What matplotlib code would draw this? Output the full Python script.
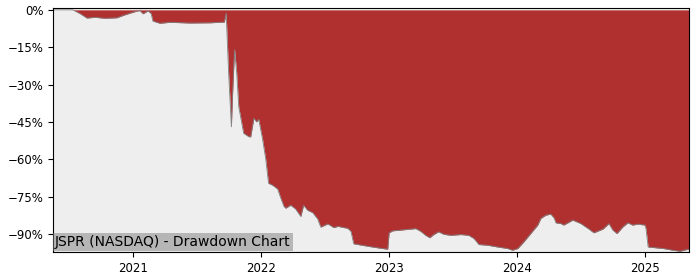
import numpy as np
import pandas as pd
import matplotlib
matplotlib.use('Agg')
import matplotlib.pyplot as plt
from matplotlib.ticker import PercentFormatter, MultipleLocator
import matplotlib.dates as mdates

# Drawdown of JSPR (percent below running peak)
dates = [
    '2020-05-18', '2020-07-14', '2020-08-03', '2020-08-23', '2020-09-15',
    '2020-10-13', '2020-11-16', '2020-12-09', '2021-01-12', '2021-01-21',
    '2021-01-30', '2021-02-13', '2021-02-22', '2021-02-27', '2021-03-19',
    '2021-04-17', '2021-06-13', '2021-08-10', '2021-09-19', '2021-09-24',
    '2021-10-01', '2021-10-09', '2021-10-12', '2021-10-18', '2021-10-24',
    '2021-10-30', '2021-11-13', '2021-11-28', '2021-12-03', '2021-12-12',
    '2021-12-20', '2021-12-26', '2022-01-06', '2022-01-15', '2022-01-23',
    '2022-02-04', '2022-02-18', '2022-02-27', '2022-03-08', '2022-03-13',
    '2022-03-27', '2022-04-10', '2022-04-25', '2022-05-03', '2022-05-14',
    '2022-05-29', '2022-06-12', '2022-06-21', '2022-07-11', '2022-07-28',
    '2022-08-09', '2022-09-06', '2022-09-15', '2022-09-23', '2022-10-13',
    '2022-11-11', '2022-12-09', '2022-12-29', '2023-01-02', '2023-01-12',
    '2023-02-04', '2023-03-05', '2023-03-19', '2023-04-02', '2023-04-16',
    '2023-04-28', '2023-05-09', '2023-05-23', '2023-06-07', '2023-06-27',
    '2023-07-26', '2023-08-17', '2023-09-01', '2023-09-15', '2023-10-11',
    '2023-11-08', '2023-12-06', '2023-12-20', '2024-01-04', '2024-01-21',
    '2024-02-10', '2024-03-01', '2024-03-10', '2024-03-24', '2024-04-07',
    '2024-04-16', '2024-04-22', '2024-05-06', '2024-05-14', '2024-06-09',
    '2024-07-02', '2024-07-25', '2024-08-08', '2024-09-03', '2024-09-20',
    '2024-10-01', '2024-10-13', '2024-10-30', '2024-11-13', '2024-11-27',
    '2024-12-11', '2025-01-01', '2025-01-04', '2025-01-10', '2025-02-22',
    '2025-03-22', '2025-04-11', '2025-05-01', '2025-05-06',
]
drawdown = [
    0.0, 0.0, -1.5, -3.3, -3.0,
    -3.4, -3.2, -2.0, -0.5, -0.3,
    -1.6, -0.4, -1.5, -4.5, -5.4,
    -5.0, -5.3, -5.2, -4.9, -1.3,
    -25.0, -47.0, -35.0, -16.0, -25.0,
    -39.0, -49.6, -51.0, -51.0, -43.6,
    -45.0, -44.0, -52.0, -60.0, -69.7,
    -70.5, -72.0, -75.7, -79.0, -79.7,
    -78.5, -80.0, -83.0, -78.5, -80.5,
    -81.5, -84.0, -87.3, -86.0, -87.5,
    -87.0, -87.8, -89.0, -94.0, -94.5,
    -95.2, -95.8, -96.2, -89.6, -88.8,
    -88.5, -88.1, -87.9, -89.0, -90.6,
    -91.6, -90.3, -89.2, -90.2, -90.6,
    -90.3, -90.6, -91.9, -94.3, -94.6,
    -95.3, -95.9, -96.6, -95.9, -93.3,
    -89.9, -86.5, -83.8, -82.5, -82.1,
    -83.5, -85.6, -85.9, -86.5, -84.5,
    -85.9, -88.1, -89.6, -88.1, -85.9,
    -88.5, -89.9, -87.2, -85.6, -86.5,
    -86.1, -86.5, -88.0, -95.3, -95.9,
    -96.6, -97.0, -96.3, -96.3,
]

ticker_label = 'JSPR (NASDAQ) - Drawdown Chart'

x = pd.to_datetime(dates)
y = np.array(drawdown)

fig = plt.figure(figsize=(7, 2.8), dpi=100)
ax = fig.add_axes([0.0757, 0.1, 0.9083, 0.871])
ax.set_facecolor('#eeeeee')

ax.fill_between(x, y, 0, color='#b03030', linewidth=0)
ax.plot(x, y, color='grey', linewidth=0.6)

ax.set_xlim(x[0], x[-1])
ax.set_ylim(y.min() - 0.3, 0.7)

ax.yaxis.set_major_locator(MultipleLocator(15))
ax.yaxis.set_major_formatter(PercentFormatter(decimals=0))
ax.xaxis.set_major_locator(mdates.YearLocator())
ax.xaxis.set_major_formatter(mdates.DateFormatter('%Y'))
ax.tick_params(labelsize=8.5)

ax.text(0.003, 0.012, ticker_label, transform=ax.transAxes, fontsize=10,
        ha='left', va='bottom',
        bbox=dict(facecolor='grey', alpha=0.5, edgecolor='none', pad=1.5))

fig.savefig('out.png', dpi=100)
